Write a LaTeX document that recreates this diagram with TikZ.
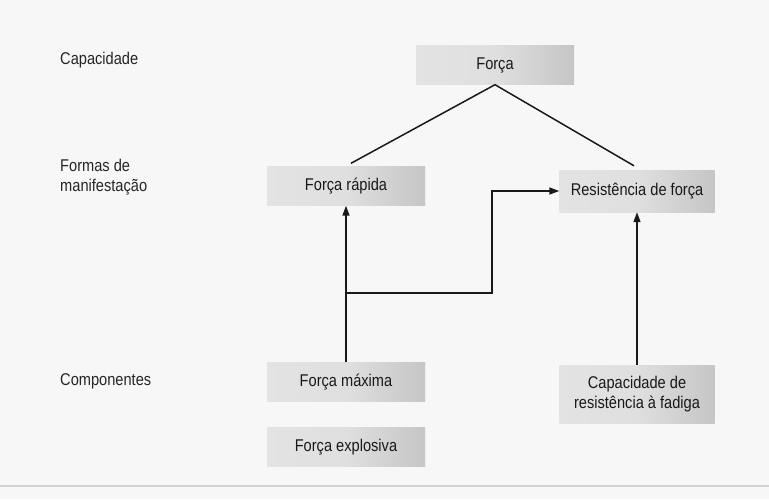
\documentclass[tikz,border=0pt]{standalone}
\usepackage{fontspec}
\setmainfont[FakeStretch=0.86]{Liberation Sans}
\usetikzlibrary{arrows.meta,calc}
\begin{document}
\begin{tikzpicture}[x=1pt,y=-1pt,
  every node/.style={font=\fontsize{17}{20.5}\selectfont, text=black!90},
  box/.style={minimum width=158pt, minimum height=39pt, inner sep=1pt,
    left color=gray!22, right color=gray!45, middle color=gray!25, shading angle=90, align=center},
  rowlabel/.style={anchor=west, align=left, inner sep=0pt, text=black!85},
  link/.style={line width=1.5pt, draw=black!90},
  arr/.style={link, -{Triangle[length=10pt,width=7pt]}}]
  % page background
  \fill[gray!6] (0,0) rectangle (769,499);
  \useasboundingbox (0,0) rectangle (769,499);

  % row labels
  \node[rowlabel] (lcap) at (60,60) {Capacidade};
  \node[rowlabel] (lform) at (60,177) {Formas de\\manifestação};
  \node[rowlabel] (lcomp) at (60,381) {Componentes};

  % boxes
  \node[box] (forca) at (495,65) {Força};
  \node[box] (rapida) at (346,186) {Força rápida};
  \node[box, minimum width=155pt, minimum height=42pt] (resist) at (637,191) {Resistência de força};
  \node[box] (maxima) at (346,382) {Força máxima};
  \node[box] (explos) at (346,447) {Força explosiva};
  \node[box, minimum width=155pt, minimum height=58pt] (fadiga) at (637,394) {Capacidade de\\resistência à fadiga};

  % hierarchy lines
  \coordinate (apex) at (forca.south);
  \draw[link] ($(rapida.north)+(5,-3)$) -- (apex) -- ($(resist.north)+(-3,-4)$);

  % arrows
  \coordinate (split) at (346,293);
  \coordinate (bend) at (492,293);
  \coordinate (up) at (492,191);
  \draw[arr] (maxima.north) -- (rapida.south);
  \draw[arr] (split) -- (bend) -- (up) -- (resist.west);
  \draw[arr] (fadiga.north) -- (resist.south);

  % faint rule along the foot
  \draw[gray!35, line width=1.5pt] (0,486) -- (769,486);
\end{tikzpicture}
\end{document}
